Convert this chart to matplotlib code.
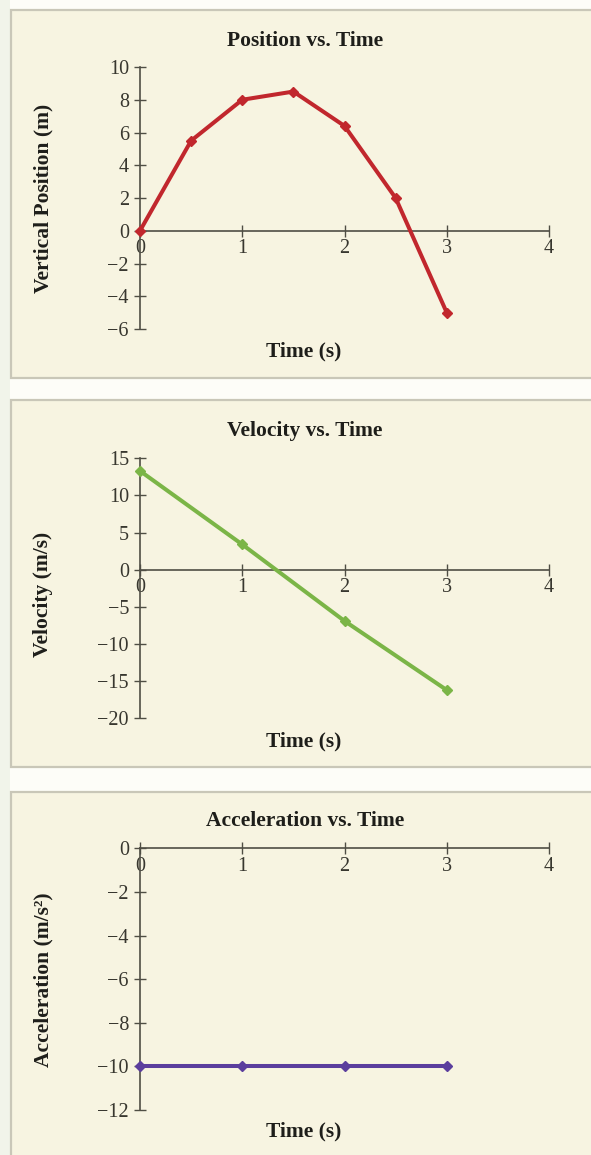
import matplotlib
matplotlib.use("Agg")
import matplotlib.pyplot as plt
from matplotlib.patches import Rectangle

# ---- data -------------------------------------------------------------
pos_time = [0, 0.5, 1.0, 1.5, 2.0, 2.5, 3.0]
pos_vals = [0.0, 5.5, 8.0, 8.5, 6.4, 2.0, -5.0]

vel_time = [0, 1, 2, 3]
vel_vals = [13.3, 3.4, -6.9, -16.2]

acc_time = [0, 1, 2, 3]
acc_vals = [-10, -10, -10, -10]

x_ticks = [0, 1, 2, 3, 4]
pos_yticks = [10, 8, 6, 4, 2, 0, -2, -4, -6]
vel_yticks = [15, 10, 5, 0, -5, -10, -15, -20]
acc_yticks = [0, -2, -4, -6, -8, -10, -12]

titles = ["Position vs. Time", "Velocity vs. Time", "Acceleration vs. Time"]
ylabels = ["Vertical Position (m)", "Velocity (m/s)", "Acceleration (m/s²)"]
xlabel = "Time (s)"

# ---- figure setup ------------------------------------------------------
W, H = 591, 1155
DPI = 100
plt.rcParams["font.family"] = ["Liberation Serif", "DejaVu Serif"]
plt.rcParams["axes.unicode_minus"] = True

fig = plt.figure(figsize=(W / DPI, H / DPI), dpi=DPI, facecolor="#f1f4ea")

def fx(px):
    return px / W

def fy(py):
    return 1 - py / H

# white page column
fig.patches.append(Rectangle((fx(10), 0), 1, 1, transform=fig.transFigure,
                             facecolor="#fdfdf8", edgecolor="none", zorder=-3))

# cream panels with grey frames (top, bottom in pixels)
panels = [(10, 378), (400, 767), (792, 1170)]
for top, bot in panels:
    fig.patches.append(Rectangle((fx(11), fy(bot)), fx(600) - fx(11), fy(top) - fy(bot),
                                 transform=fig.transFigure, facecolor="#f7f4e1",
                                 edgecolor="#c9c7b8", linewidth=1.6, zorder=-2))

AXIS_COLOR = "#4f4e44"
TEXT_COLOR = "#1e1e1a"
TICK_COLOR = "#38372f"
LABEL_SIZE = 15.5
TICK_SIZE = 14.5

def make_axes(y_top_px, y_bot_px, ylim, yticks):
    left, right = 140, 549
    ax = fig.add_axes([fx(left), fy(y_bot_px), fx(right) - fx(left), fy(y_top_px) - fy(y_bot_px)])
    ax.set_facecolor("none")
    ax.set_xlim(0, 4)
    ax.set_ylim(*ylim)
    for s in ("top", "right"):
        ax.spines[s].set_visible(False)
    ax.spines["bottom"].set_position(("data", 0))
    for s in ("left", "bottom"):
        ax.spines[s].set_color(AXIS_COLOR)
        ax.spines[s].set_linewidth(1.2)
    ax.set_xticks(x_ticks)
    ax.set_yticks(yticks)
    ax.tick_params(axis="both", direction="inout", length=8, width=1.0,
                   color=AXIS_COLOR, labelcolor=TICK_COLOR, labelsize=TICK_SIZE)
    ax.tick_params(axis="x", pad=2)
    ax.tick_params(axis="y", pad=4)
    return ax

# Position panel
ax1 = make_axes(67, 329, (-6, 10), pos_yticks)
ax1.plot(pos_time, pos_vals, color="#c1272d", linewidth=2.9, marker="D",
         markersize=5, clip_on=False, zorder=5)

# Velocity panel
ax2 = make_axes(458.3, 718.3, (-20, 15), vel_yticks)
ax2.plot(vel_time, vel_vals, color="#7bb547", linewidth=2.9, marker="D",
         markersize=5, clip_on=False, zorder=5)

# Acceleration panel
ax3 = make_axes(848.3, 1110, (-12, 0), acc_yticks)
ax3.plot(acc_time, acc_vals, color="#5b3e9d", linewidth=2.9, marker="D",
         markersize=5, clip_on=False, zorder=5)

# titles and axis labels placed on the figure
title_y = [41, 431, 821]
ylabel_y = [198, 594, 980]
xlabel_y = [351, 741, 1131]
for t, yl, ty, ly, xy in zip(titles, ylabels, title_y, ylabel_y, xlabel_y):
    fig.text(fx(305), fy(ty), t, ha="center", va="center", fontsize=LABEL_SIZE,
             fontweight="bold", color=TEXT_COLOR)
    fig.text(fx(43), fy(ly), yl, ha="center", va="center", rotation=90,
             fontsize=LABEL_SIZE, fontweight="bold", color=TEXT_COLOR)
    fig.text(fx(304), fy(xy), xlabel, ha="center", va="center", fontsize=LABEL_SIZE,
             fontweight="bold", color=TEXT_COLOR)

fig.savefig("out.png", dpi=DPI, facecolor=fig.get_facecolor())
